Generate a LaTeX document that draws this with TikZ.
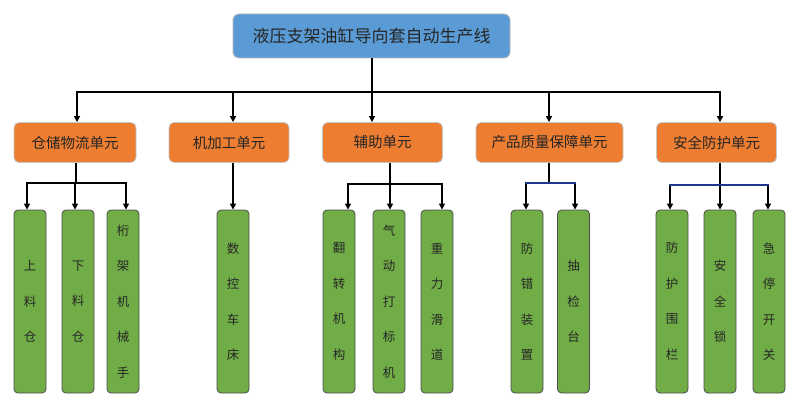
\documentclass[tikz,border=0pt]{standalone}
\usepackage{fontspec}
\newfontfamily\cjk{Noto Sans CJK SC}
\usetikzlibrary{arrows.meta}
\definecolor{tblue}{RGB}{91,155,213}
\definecolor{torange}{RGB}{237,125,49}
\definecolor{tgreen}{RGB}{112,173,71}
\definecolor{navy}{RGB}{32,56,140}
\tikzset{
  x=1pt,y=-1pt,
  titlebox/.style={draw=gray!55,line width=0.8pt,fill=tblue,rounded corners=6pt,minimum width=277pt,minimum height=44pt,inner sep=0pt,font=\cjk\fontsize{17}{20}\selectfont,text=black!85},
  unitbox/.style={draw=gray!45,line width=0.8pt,fill=torange,rounded corners=5pt,minimum height=40pt,inner sep=0pt,font=\cjk\fontsize{14.5}{18}\selectfont,text=black!85},
  leafbox/.style={draw=black!70,line width=0.8pt,fill=tgreen,rounded corners=4pt,minimum width=32pt,minimum height=183pt,inner sep=0pt,align=center,font=\cjk\fontsize{12.5}{35.5}\selectfont,text=black!85},
  conn/.style={line width=1.5pt,black},
  arr/.style={conn,-{Triangle[length=6pt,width=6pt]}},
  bbar/.style={line width=1.5pt,navy}
}
\begin{document}
\begin{tikzpicture}
\useasboundingbox (0,0) rectangle (800,414);
% title
\node[titlebox] (title) at (371.5,36) {液压支架油缸导向套自动生产线};
% units
\node[unitbox,minimum width=122pt] (u1) at (75,142.5) {仓储物流单元};
\node[unitbox,minimum width=120pt] (u2) at (229,142.5) {机加工单元};
\node[unitbox,minimum width=120pt] (u3) at (382.5,142.5) {辅助单元};
\node[unitbox,minimum width=147pt] (u4) at (549.5,142.5) {产品质量保障单元};
\node[unitbox,minimum width=120pt] (u5) at (716.5,142.5) {安全防护单元};
% leaves
\node[leafbox] (l11) at (30,301.5) {上\\料\\仓};
\node[leafbox] (l12) at (78,301.5) {下\\料\\仓};
\node[leafbox] (l13) at (123,301.5) {桁\\架\\机\\械\\手};
\node[leafbox] (l21) at (233,301.5) {数\\控\\车\\床};
\node[leafbox] (l31) at (339,301.5) {翻\\转\\机\\构};
\node[leafbox] (l32) at (389,301.5) {气\\动\\打\\标\\机};
\node[leafbox] (l33) at (437,301.5) {重\\力\\滑\\道};
\node[leafbox] (l41) at (527,301.5) {防\\错\\装\\置};
\node[leafbox] (l42) at (573.5,301.5) {抽\\检\\台};
\node[leafbox] (l51) at (672,301.5) {防\\护\\围\\栏};
\node[leafbox] (l52) at (720,301.5) {安\\全\\锁};
\node[leafbox] (l53) at (769,301.5) {急\\停\\开\\关};
% top bar
\coordinate (b1) at (77,92);
\coordinate (b2) at (233,92);
\coordinate (b3) at (372,92);
\coordinate (b4) at (549,92);
\coordinate (b5) at (720,92);
\draw[conn] (title.south -| b3) -- (b3);
\draw[conn] ([xshift=-0.75pt]b1) -- ([xshift=0.75pt]b5);
\foreach \i in {1,...,5} \draw[arr] (b\i) -- (b\i |- u\i.north);
% unit 1
\coordinate (c1) at (76,183);
\coordinate (s11) at (27,183);
\coordinate (s12) at (75,183);
\coordinate (s13) at (126,183);
\draw[conn] (c1 |- u1.south) -- (c1);
\draw[conn] ([xshift=-0.75pt]s11) -- ([xshift=0.75pt]s13);
\draw[arr] (s11) -- (s11 |- l11.north);
\draw[arr] (s12) -- (s12 |- l12.north);
\draw[arr] (s13) -- (s13 |- l13.north);
% unit 2
\coordinate (c2) at (233,163);
\draw[arr] (c2 |- u2.south) -- (c2 |- l21.north);
% unit 3
\coordinate (c3) at (390,184);
\coordinate (s31) at (348,184);
\coordinate (s33) at (442,184);
\draw[conn] (c3 |- u3.south) -- (c3);
\draw[conn] ([xshift=-0.75pt]s31) -- ([xshift=0.75pt]s33);
\draw[arr] (s31) -- (s31 |- l31.north);
\draw[arr] (c3) -- (c3 |- l32.north);
\draw[arr] (s33) -- (s33 |- l33.north);
% unit 4
\coordinate (c4) at (549,183);
\coordinate (s41) at (526,183);
\coordinate (s42) at (575,183);
\draw[conn] (c4 |- u4.south) -- (c4);
\draw[arr] (s41) -- (s41 |- l41.north);
\draw[arr] (s42) -- (s42 |- l42.north);
\draw[bbar] ([xshift=-0.75pt]s41) -- ([xshift=0.75pt]s42);
% unit 5
\coordinate (c5) at (720,185);
\coordinate (s51) at (670,185);
\coordinate (s53) at (768,185);
\draw[conn] (c5 |- u5.south) -- (c5);
\draw[arr] (s51) -- (s51 |- l51.north);
\draw[arr] (c5) -- (c5 |- l52.north);
\draw[arr] (s53) -- (s53 |- l53.north);
\draw[bbar] ([xshift=-0.75pt]s51) -- ([xshift=0.75pt]s53);
\end{tikzpicture}
\end{document}
